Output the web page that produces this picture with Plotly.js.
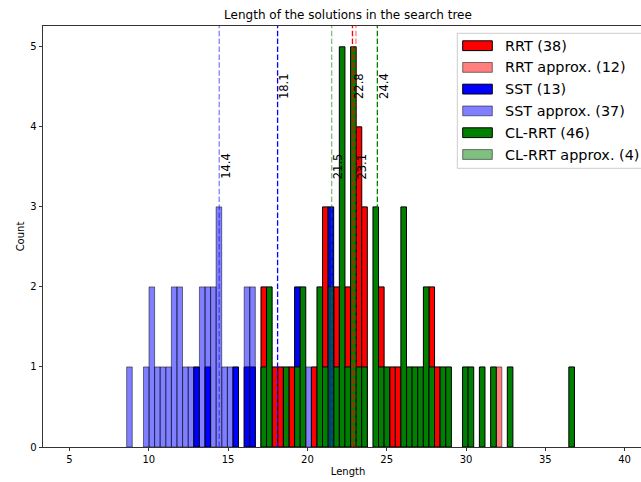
<!DOCTYPE html>
<html><head><meta charset="utf-8">
<script src="https://cdn.plot.ly/plotly-3.0.1.min.js"></script>
<style>html,body{margin:0;padding:0;overflow:hidden;background:#fff}#chart{width:660px;height:482px}</style>
</head><body><div id="chart"></div>
<script>
// ---- data (bin centres and counts) ----
const seriesNames = ['RRT (38)', 'RRT approx. (12)', 'SST (13)', 'SST approx. (37)', 'CL-RRT (46)', 'CL-RRT approx. (4)'];
const rrtX = [17.25, 17.95, 18.31, 19.01, 20.43, 21.13, 21.84, 22.54, 23.25, 23.60, 24.66, 25.37, 25.72, 27.84, 28.19];
const rrtY = [2, 1, 1, 1, 1, 3, 2, 2, 4, 3, 2, 1, 1, 2, 1];
const rrtApproxX = [32.08];
const rrtApproxY = [1];
const sstX = [13.01, 13.72, 15.48, 16.19, 16.54, 19.37, 21.48];
const sstY = [1, 1, 1, 1, 1, 2, 3];
const sstApproxX = [8.78, 9.84, 10.19, 10.54, 10.89, 11.25, 11.60, 11.95, 12.31, 12.66, 13.37, 13.72, 14.07, 14.42, 14.78, 15.13, 16.19, 16.54, 20.07];
const sstApproxY = [1, 1, 2, 1, 1, 1, 2, 2, 1, 1, 2, 2, 2, 3, 1, 1, 2, 2, 1];
const clX = [17.25, 17.60, 18.66, 19.37, 19.72, 20.78, 21.13, 21.84, 22.19, 22.54, 22.90, 23.25, 23.60, 24.31, 24.66, 25.01, 26.07, 26.43, 26.78, 27.13, 27.49, 27.84, 28.54, 28.90, 29.96, 30.31, 31.02, 31.73, 32.78, 36.66];
const clY = [1, 2, 1, 1, 2, 2, 1, 1, 5, 1, 5, 1, 1, 3, 1, 1, 3, 1, 1, 1, 2, 1, 1, 1, 1, 1, 1, 1, 1, 1];
const clApproxX = [21.48];
const clApproxY = [2];
const seriesMeans = [22.84, 23.06, 18.12, 14.44, 24.41, 21.53];
const xTicks = [5, 10, 15, 20, 25, 30, 35, 40];
const yTicks = [0, 1, 2, 3, 4, 5];

// ---- styles ----
const fills = ['rgb(255,0,0)', 'rgba(255,0,0,0.5)', 'rgb(0,0,255)', 'rgba(0,0,255,0.5)', 'rgb(0,128,0)', 'rgba(0,128,0,0.5)'];
const edges = ['rgb(0,0,0)', 'rgba(0,0,0,0.5)', 'rgb(0,0,0)', 'rgba(0,0,0,0.5)', 'rgb(0,0,0)', 'rgba(0,0,0,0.5)'];
const xs = [rrtX, rrtApproxX, sstX, sstApproxX, clX, clApproxX];
const ys = [rrtY, rrtApproxY, sstY, sstApproxY, clY, clApproxY];
const binWidth = 0.353;
const FONT = 'DejaVu Sans, sans-serif';

const traces = xs.map((x, i) => ({
  type: 'bar', x: x, y: ys[i], width: binWidth, name: seriesNames[i],
  marker: {color: fills[i], line: {color: edges[i], width: 1}},
  showlegend: false, hoverinfo: 'skip'
}));

const L = 43, R = 653, T = 26, B = 447;
const px2x = px => (px - L) / (R - L);
const py2y = py => (B - py) / (B - T);

const shapes = [];
const annotations = [];
seriesMeans.forEach((m, i) => {
  shapes.push({type: 'line', xref: 'x', yref: 'paper', x0: m, x1: m, y0: 0, y1: 1,
    line: {color: fills[i], width: 1.3, dash: '5.5px,2.4px'}});
  const approx = (i % 2 === 1);
  annotations.push({xref: 'x', yref: 'y', x: m, y: approx ? 3.51 : 4.51, xshift: 6.5,
    text: m.toFixed(1), showarrow: false, textangle: -90, xanchor: 'center', yanchor: 'middle',
    font: {family: FONT, size: 11.5, color: '#000'}});
});

// legend drawn by hand (matplotlib-style wide patches)
shapes.push({type: 'rect', xref: 'paper', yref: 'paper', x0: px2x(457.3), x1: px2x(648), y0: py2y(168.3), y1: py2y(33.3),
  fillcolor: 'rgba(255,255,255,0.8)', line: {color: '#cccccc', width: 1}, layer: 'above'});
const rowY = [45.7, 67.4, 89.1, 110.9, 132.7, 154.5];
seriesNames.forEach((nm, i) => {
  shapes.push({type: 'rect', xref: 'paper', yref: 'paper', x0: px2x(462.7), x1: px2x(492.3),
    y0: py2y(rowY[i] + 4.9), y1: py2y(rowY[i] - 4.9), fillcolor: fills[i], line: {color: edges[i], width: 1}, layer: 'above'});
  annotations.push({xref: 'paper', yref: 'paper', x: px2x(503), y: py2y(rowY[i]), text: nm, showarrow: false,
    xanchor: 'left', yanchor: 'middle', font: {family: FONT, size: 14.4, color: '#000'}});
});

const layout = {
  width: 660, height: 482,
  margin: {l: L, r: 660 - R, t: T, b: 482 - B, pad: 0},
  paper_bgcolor: '#fff', plot_bgcolor: '#fff',
  barmode: 'overlay',
  showlegend: false,
  title: {text: 'Length of the solutions in the search tree', font: {family: FONT, size: 12, color: '#000'},
    x: 0.5, xref: 'paper', xanchor: 'center', y: 1 - 15 / 482, yref: 'container', yanchor: 'middle'},
  xaxis: {range: [3.329, 41.79], tickvals: xTicks, ticktext: xTicks.map(String), ticks: 'outside', ticklen: 3.5, tickwidth: 0.8,
    tickcolor: '#000', showline: true, linecolor: '#000', linewidth: 0.8, mirror: true, showgrid: false, zeroline: false,
    tickfont: {family: FONT, size: 10, color: '#000'},
    title: {text: 'Length', font: {family: FONT, size: 10, color: '#000'}, standoff: 3}},
  yaxis: {range: [0, 5.26], tickvals: yTicks, ticktext: yTicks.map(String), ticks: 'outside', ticklen: 3.5, tickwidth: 0.8,
    tickcolor: '#000', showline: true, linecolor: '#000', linewidth: 0.8, mirror: true, showgrid: false, zeroline: false,
    tickfont: {family: FONT, size: 10, color: '#000'},
    title: {text: 'Count', font: {family: FONT, size: 10, color: '#000'}, standoff: 3}},
  shapes: shapes, annotations: annotations
};

Plotly.newPlot('chart', traces, layout, {displayModeBar: false, staticPlot: true});
</script>
</body></html>
